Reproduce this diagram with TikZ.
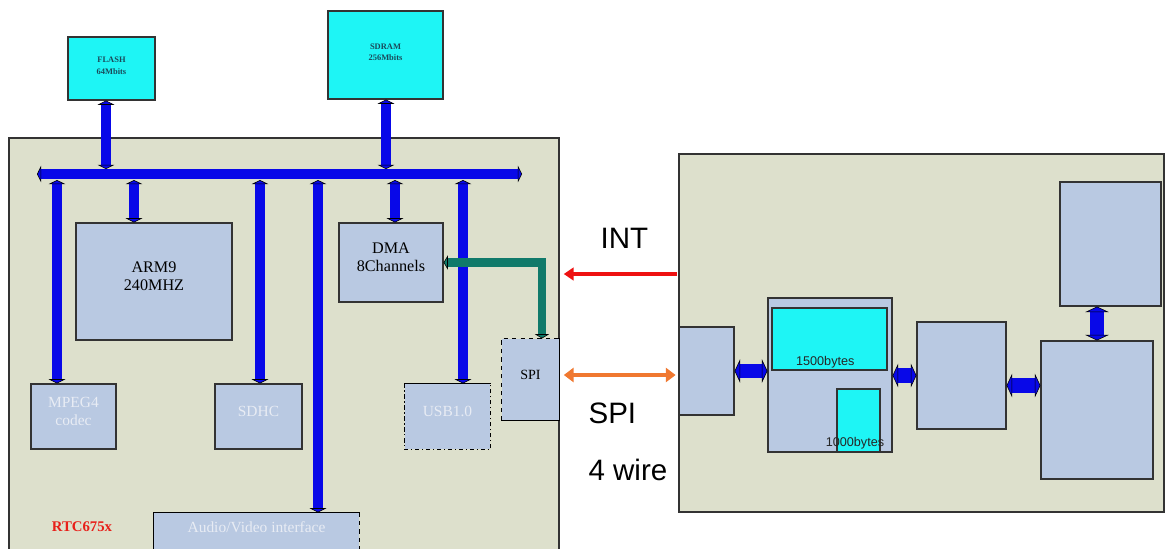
\documentclass[tikz,border=0pt]{standalone}
\usepackage{fontspec}
\setmainfont{Liberation Serif}
\newfontfamily\arialfont{Liberation Sans}
\usetikzlibrary{arrows.meta, positioning, calc, fit}

\definecolor{chipbg}{HTML}{DDE0CC}
\definecolor{lavblue}{HTML}{B9C9E2}
\definecolor{memcyan}{HTML}{1EF5F5}
\definecolor{memtext}{HTML}{1A4A5A}
\definecolor{dimtext}{HTML}{E8ECF4}
\definecolor{busblue}{HTML}{0808E8}
\definecolor{ctlteal}{HTML}{107A6A}
\definecolor{intred}{HTML}{EE1111}
\definecolor{spiorange}{HTML}{F07830}
\definecolor{rtcred}{HTML}{E8201A}

\begin{document}
\begin{tikzpicture}[
        x=0.025cm, y=-0.025cm, line width=0.8pt,
        % ---- tips ----
        bustip/.tip = {Triangle[length=3pt, width=12pt, color=black, fill=busblue, line width=0.4pt]},
        ctltip/.tip = {Triangle[length=3pt, width=10pt, color=black, fill=ctlteal, line width=0.4pt]},
        fattip/.tip = {Triangle[length=4pt, width=17pt, color=black, fill=busblue, line width=0.4pt]},
        % ---- styles ----
        chip/.style = {draw=black!80, fill=chipbg, inner sep=0pt},
        blk/.style = {draw=black!80, fill=lavblue, inner sep=0pt, align=center,
                      font=\fontsize{11.5}{13}\selectfont},
        dimtxt/.style = {text=dimtext, font=\fontsize{11}{13}\selectfont},
        mem/.style = {draw=black!80, fill=memcyan, inner sep=0pt, align=center,
                      font=\fontsize{6}{8}\selectfont\bfseries, text=memtext},
        bus/.style = {busblue, line width=0.27cm, bustip-bustip},
        drop/.style = {busblue, line width=0.25cm, bustip-bustip},
        ctl/.style = {ctlteal, line width=0.22cm, ctltip-ctltip},
        fat/.style = {busblue, line width=0.36cm, fattip-fattip},
        intline/.style = {intred, line width=3pt, -{Triangle[length=7pt, width=9pt]}},
        spiline/.style = {spiorange, line width=3.5pt, {Triangle[length=7pt, width=10pt]}-{Triangle[length=7pt, width=10pt]}},
        bytes/.style = {inner sep=0pt, text=black!85, font=\arialfont\fontsize{9}{10}\selectfont},
        lbl/.style = {anchor=west, inner sep=0pt, font=\arialfont\fontsize{21}{24}\selectfont}
    ]
    \useasboundingbox (0,0) rectangle (1165,548);
    \clip (0,0) rectangle (1165,548);

    % ===================== chip (left) =====================
    \node[chip, fit={(9,138) (559,560)}] (lchip) {};

    \node[mem, fit={(68,37) (155,100)}] (flash) {FLASH\\64Mbits};
    \node[mem, fit={(328,11) (443,99)}] (sdram) {SDRAM\\256Mbits};

    \node[blk, fit={(76,223) (232,340)}] (arm) {ARM9\\240MHZ};
    \node[blk, fit={(339,223) (443,302)}] (dma) {DMA\\8Channels};
    \node[blk, dimtxt, fit={(31,384) (116,449)}] (mpeg) {MPEG4\\codec};
    \node[blk, dimtxt, fit={(215,384) (302,449)}] (sdhc) {SDHC};
    \node[blk, dimtxt, draw=none, fit={(405,384) (490,449)}] (usb) {USB1.0};
    \node[blk, draw=none, fit={(502,339) (559,420)}, font=\fontsize{10}{12}\selectfont] (spi) {SPI};
    \node[blk, dimtxt, draw=none, fit={(154,513) (359,553)}] (av) {Audio/Video interface};

    % borders that are partly dashed
    \draw[dashdotted] (usb.north west) |- (usb.south east) -- (usb.north east);
    \draw (usb.north west) -- (usb.north east);
    \draw[dashed] (spi.south west) -- (spi.north west) -- (spi.north east);
    \draw (spi.north east) -- (spi.south east) -- (spi.south west);
    \draw (av.south west) -- (av.north west) -- (av.north east);
    \draw[dashed] (av.north east) -- (av.south east);

    \node[font=\fontsize{10.5}{12}\selectfont\bfseries, text=rtcred] (chipname) at (82,527) {RTC675x};

    % ---- bus ----
    \coordinate (busL) at (37,174);
    \coordinate (busR) at (522,174);
    \draw[bus] (busL) -- (busR);

    \coordinate (tapFlash) at (106,169);
    \coordinate (tapSdram) at (386,169);
    \draw[drop] (flash.south -| tapFlash) -- (tapFlash);
    \draw[drop] (sdram.south -| tapSdram) -- (tapSdram);

    \foreach \n/\x in {Mpeg/57, Arm/134, Sdhc/260, Av/318, Dma/395, Usb/463}
        \coordinate (tap\n) at (\x,180);
    \foreach \t/\b in {tapMpeg/mpeg, tapArm/arm, tapSdhc/sdhc, tapAv/av, tapDma/dma, tapUsb/usb}
        \draw[drop] (\t) -- (\t |- \b.north);

    % SPI <-> DMA
    \coordinate (ctlX) at (542,0);
    \draw[ctl] (dma.east) -| (ctlX |- spi.north);

    % ===================== device (right) =====================
    \node[chip, fit={(679,154) (1164,512)}] (rchip) {};

    \node[blk, fit={(679,327) (734,415)}] (ra) {};
    \node[blk, fit={(768,298) (892,452)}] (rb) {};
    \node[mem, fit={(772,308) (887,370)}] (buf1) {};
    \node[mem, fit={(837,389) (880,452)}] (buf2) {};
    \node[bytes, above=1pt of buf1.south, xshift=-3pt] (buf1txt) {1500bytes};
    \node[bytes] (buf2txt) at (855,443) {1000bytes};
    \node[blk, fit={(917,322) (1006,429)}] (rc) {};
    \node[blk, fit={(1041,341) (1153,479)}] (rd) {};
    \node[blk, fit={(1060,182) (1161,306)}] (re) {};

    \draw[fat] (ra.east) -- (ra.east -| rb.west);
    \draw[fat] (rb.east |- rc.west) -- (rc.west);
    \draw[fat] ([yshift=-0.25cm]rc.east) -- ([yshift=-0.25cm]rc.east -| rd.west);
    \draw[fat] (re.south -| rd.north) -- (rd.north);

    % ===================== links between =====================
    \coordinate (intY) at (620,274);
    \coordinate (spiY) at (620,375);
    \draw[intline, shorten >=3pt, shorten <=1pt] (rchip.west |- intY) -- (lchip.east |- intY);
    \draw[spiline, shorten >=2pt, shorten <=3pt] (lchip.east |- spiY) -- (rchip.west |- spiY);

    \node[lbl] (intlbl) at (600,238) {INT};
    \node[lbl] (spilbl) at (588,413) {SPI};
    \node[lbl] (wirelbl) at (588,470) {4 wire};

\end{tikzpicture}
\end{document}
